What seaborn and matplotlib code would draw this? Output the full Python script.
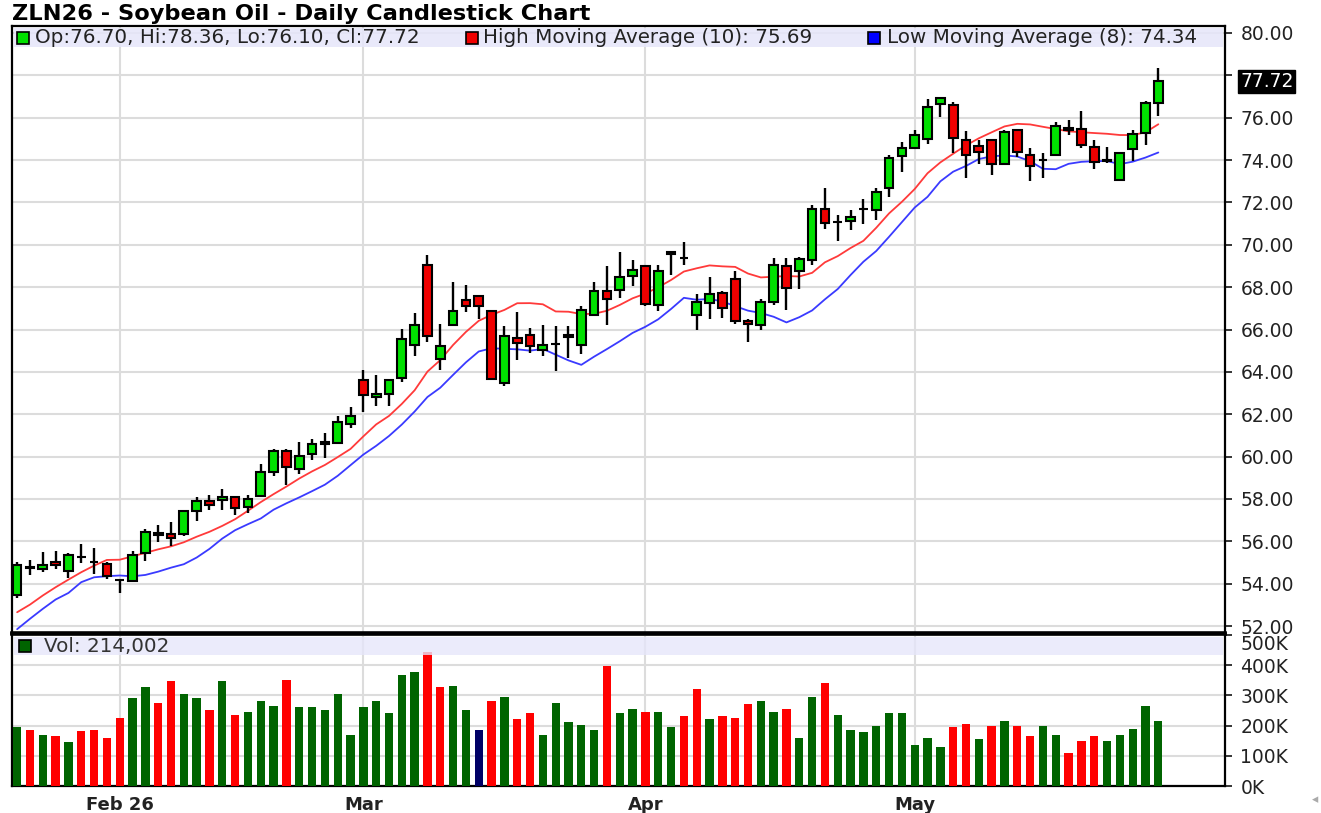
import numpy as np
import pandas as pd
import matplotlib
matplotlib.use("Agg")
import matplotlib.pyplot as plt
from matplotlib.patches import Rectangle
import seaborn as sns

# daily OHLC (first bar = late January)
opens = [53.45, 54.80, 54.70, 55.00, 54.62, 55.24, 55.00, 54.93, 54.19, 54.14,
         55.45, 56.30, 56.34, 56.34, 57.41, 57.88, 57.96, 58.07, 57.63, 58.12,
         59.28, 60.27, 59.43, 60.14, 60.58, 60.63, 61.52, 63.61, 62.81, 62.94,
         63.72, 65.29, 69.06, 64.63, 66.20, 67.41, 67.57, 66.86, 63.49, 65.60,
         65.76, 65.02, 65.30, 65.76, 65.29, 66.70, 67.83, 67.88, 68.51, 69.00,
         67.14, 69.55, 69.38, 66.70, 67.27, 67.74, 68.37, 66.38, 66.19, 67.30,
         69.00, 68.76, 69.27, 71.71, 71.06, 71.13, 71.69, 71.64, 72.67, 74.20,
         74.58, 75.01, 76.65, 76.60, 74.97, 74.67, 74.97, 73.80, 75.40, 74.23,
         73.98, 74.26, 75.53, 75.45, 74.62, 73.96, 73.07, 74.51, 75.29, 76.70]
highs = [55.00, 55.10, 55.50, 55.55, 55.45, 55.87, 55.70, 55.00, 54.22, 55.55,
         56.58, 56.78, 56.92, 57.47, 58.07, 58.20, 58.49, 58.15, 58.20, 59.64,
         60.35, 60.35, 60.71, 60.85, 61.09, 61.92, 62.35, 64.07, 63.85, 63.65,
         66.03, 66.78, 69.53, 66.28, 68.24, 68.08, 67.60, 66.90, 66.15, 66.81,
         66.08, 66.23, 66.15, 66.15, 67.13, 68.24, 69.01, 69.64, 69.29, 69.05,
         69.06, 69.66, 70.14, 67.69, 68.48, 67.80, 68.75, 66.50, 67.46, 69.39,
         69.39, 69.43, 71.87, 72.66, 71.40, 71.63, 72.14, 72.66, 74.25, 74.86,
         75.43, 76.88, 76.99, 76.75, 75.35, 74.97, 74.97, 75.43, 75.48, 74.58,
         74.31, 75.82, 75.90, 76.33, 74.97, 74.62, 74.39, 75.40, 76.80, 78.36]
lows = [53.30, 54.40, 54.55, 54.70, 54.26, 54.96, 54.45, 54.20, 53.56, 54.10,
        55.06, 55.95, 55.76, 56.26, 56.97, 57.47, 57.47, 57.25, 57.33, 58.10,
        59.09, 58.67, 59.20, 59.83, 59.91, 60.60, 61.35, 62.10, 62.39, 62.39,
        63.53, 64.74, 65.40, 64.11, 66.20, 66.83, 66.50, 63.60, 63.33, 64.54,
        64.90, 64.77, 64.03, 64.66, 64.82, 66.70, 66.19, 67.50, 68.04, 67.10,
        66.85, 68.56, 69.03, 65.96, 66.51, 66.54, 66.27, 65.40, 65.96, 67.14,
        66.90, 67.93, 69.06, 70.74, 70.17, 70.69, 70.97, 71.19, 72.27, 73.46,
        74.58, 74.78, 76.02, 74.34, 73.14, 73.80, 73.30, 73.80, 74.16, 73.02,
        73.14, 74.19, 75.17, 74.55, 73.56, 73.84, 72.99, 73.95, 74.70, 76.10]
closes = [54.90, 54.72, 54.90, 54.88, 55.35, 55.24, 55.00, 54.38, 54.19, 55.35,
          56.45, 56.40, 56.14, 57.41, 57.91, 57.71, 58.07, 57.57, 57.99, 59.28,
          60.27, 59.51, 60.03, 60.61, 60.71, 61.65, 61.90, 62.89, 62.94, 63.61,
          65.56, 66.19, 65.71, 65.21, 66.86, 67.13, 67.13, 63.64, 65.68, 65.37,
          65.21, 65.26, 65.32, 65.65, 66.91, 67.83, 67.44, 68.46, 68.82, 67.20,
          68.75, 69.66, 69.38, 67.30, 67.66, 67.03, 66.38, 66.27, 67.30, 69.03,
          67.97, 69.32, 71.71, 71.05, 71.09, 71.32, 71.71, 72.50, 74.08, 74.55,
          75.17, 76.52, 76.91, 75.06, 74.23, 74.39, 73.80, 75.32, 74.39, 73.74,
          74.00, 75.59, 75.43, 74.70, 73.92, 74.00, 74.31, 75.25, 76.68, 77.72]
volumes = [196, 186, 170, 165, 145, 181, 186, 160, 225, 291,
           326, 276, 346, 306, 291, 251, 346, 235, 245, 281,
           265, 351, 261, 261, 251, 306, 170, 261, 281, 241,
           366, 376, 444, 326, 330, 251, 186, 281, 296, 221,
           241, 170, 276, 211, 201, 186, 397, 241, 255, 246,
           246, 196, 231, 320, 221, 231, 225, 271, 281, 246,
           255, 160, 296, 340, 235, 186, 180, 200, 241, 241,
           135, 160, 130, 196, 206, 155, 200, 215, 200, 165,
           200, 170, 109, 150, 165, 150, 170, 190, 265, 214.002]

# moving average values at the left edge (need bars before the window)
ma_high_head = [52.65, 53.01, 53.44, 53.83, 54.19, 54.54, 54.85, 55.12, 55.13]
ma_low_head = [51.85, 52.34, 52.81, 53.25, 53.56, 54.07, 54.30]

month_pos = [8, 27, 49, 70]
month_labels = ["Feb 26", "Mar", "Apr", "May"]
price_ticks = list(range(52, 81, 2))
vol_ticks = [0, 100000, 200000, 300000, 400000, 500000]
vol_labels = ["0K", "100K", "200K", "300K", "400K", "500K"]

title = "ZLN26 - Soybean Oil - Daily Candlestick Chart"
txt_ohlc = "Op:76.70, Hi:78.36, Lo:76.10, Cl:77.72"
txt_hma = "High Moving Average (10): 75.69"
txt_lma = "Low Moving Average (8): 74.34"
txt_vol = "Vol: 214,002"
last_close = 77.72

df = pd.DataFrame({"open": opens, "high": highs, "low": lows,
                   "close": closes, "volume": np.array(volumes) * 1000})
df["x"] = np.arange(len(df))
df["ma_high"] = df["high"].rolling(10).mean()
df.loc[:8, "ma_high"] = ma_high_head
df["ma_low"] = df["low"].rolling(8).mean()
df.loc[:6, "ma_low"] = ma_low_head
chg = df["close"].diff().fillna(1)
df["vdir"] = np.where(chg > 0, "up", np.where(chg < 0, "down", "unch"))

sns.set_style("white")
plt.rcParams["font.family"] = ["DejaVu Sans"]

W, H = 1321, 813
fig = plt.figure(figsize=(W / 100, H / 100), dpi=100)
ax = fig.add_axes([12 / W, 1 - 633 / H, 1213 / W, 607 / H])
axv = fig.add_axes([12 / W, 1 - 786 / H, 1213 / W, 152 / H], sharex=ax)

grid_c = "#dcdcdc"
green = "#00e000"
red = "#f00000"

# price panel
sns.lineplot(data=df, x="x", y="ma_high", ax=ax, color="#ff3a3a", lw=1.3, zorder=2)
sns.lineplot(data=df, x="x", y="ma_low", ax=ax, color="#3a3aff", lw=1.3, zorder=2)
ax.vlines(df["x"], df["low"], df["high"], color="black", lw=1.7, zorder=3)
body_col = np.where(df["close"] >= df["open"], green, red)
ax.bar(df["x"], (df["close"] - df["open"]).abs(),
       bottom=df[["open", "close"]].min(axis=1), width=0.68,
       color=body_col, edgecolor="black", linewidth=1.5, zorder=4)

ax.set_ylim(51.67, 80.33)
ax.set_xlim(-0.4, 94.2)
ax.set_yticks(price_ticks)
ax.set_yticklabels(["" if t == 78 else f"{t:.2f}" for t in price_ticks])
ax.yaxis.tick_right()
ax.tick_params(axis="y", direction="out", length=5, width=1.3, pad=6,
               labelsize=13.5, labelcolor="#222222")
ax.tick_params(axis="x", bottom=False, labelbottom=False)
ax.set_xticks(month_pos)
ax.grid(True, color=grid_c, lw=1.5)
ax.set_axisbelow(True)
ax.set_xlabel("")
ax.set_ylabel("")
for s in ax.spines.values():
    s.set_color("black")
    s.set_linewidth(1.6)
ax.spines["bottom"].set_linewidth(2.6)

# header band with legend
ax.add_patch(Rectangle((0.0016, 0.9654), 0.9965, 0.0313, transform=ax.transAxes,
                       facecolor="#e6e6fa", alpha=0.85, edgecolor="none", zorder=6))
yb = 0.981
for xs, xt, c, t in [(0.0091, 0.0190, green, txt_ohlc),
                     (0.3792, 0.3885, red, txt_hma),
                     (0.7106, 0.7215, "#0000ff", txt_lma)]:
    ax.plot([xs], [yb], marker="s", ms=8, mfc=c, mec="black", mew=1.2,
            transform=ax.transAxes, clip_on=False, zorder=7)
    ax.text(xt, yb, t, transform=ax.transAxes, va="center", ha="left",
            fontsize=14.3, color="#222222", zorder=7)

ax.annotate(f"{last_close:.2f}", xy=(1.0, last_close),
            xycoords=("axes fraction", "data"), xytext=(15, 0),
            textcoords="offset pixels", va="center", ha="left",
            fontsize=13.5, color="white",
            bbox=dict(boxstyle="square,pad=0.1", fc="black", ec="black"),
            zorder=8, annotation_clip=False)

# volume panel
sns.barplot(data=df, x="x", y="volume", hue="vdir", ax=axv, native_scale=True,
            palette={"up": "#006400", "down": "#ff0000", "unch": "#000066"},
            dodge=False, legend=False, width=0.65, saturation=1,
            linewidth=0, zorder=3)
axv.set_ylim(0, 503000)
axv.set_xlim(-0.4, 94.2)
axv.set_yticks(vol_ticks)
axv.set_yticklabels(vol_labels)
axv.yaxis.tick_right()
axv.tick_params(axis="y", direction="out", length=5, width=1.3, pad=6,
                labelsize=13.5, labelcolor="#222222")
axv.get_yticklabels()[-1].set_va("top")
axv.set_xticks(month_pos)
axv.set_xticklabels(month_labels, fontweight="bold", fontsize=13, color="#222222")
axv.tick_params(axis="x", direction="inout", length=7, width=1.3, pad=4)
axv.grid(True, color=grid_c, lw=1.5)
axv.set_axisbelow(True)
axv.set_xlabel("")
axv.set_ylabel("")
for s in axv.spines.values():
    s.set_color("black")
    s.set_linewidth(1.6)
axv.spines["top"].set_linewidth(2.6)

axv.add_patch(Rectangle((0.0016, 0.862), 0.9965, 0.118, transform=axv.transAxes,
                        facecolor="#e6e6fa", alpha=0.8, edgecolor="none", zorder=6))
axv.plot([0.0107], [0.921], marker="s", ms=8, mfc="#006400", mec="black", mew=1.2,
         transform=axv.transAxes, clip_on=False, zorder=7)
axv.text(0.0265, 0.921, txt_vol, transform=axv.transAxes, va="center", ha="left",
         fontsize=14.3, color="#333333", zorder=7)

fig.text(12 / W, 1 - 14 / H, title, fontsize=16.2, fontweight="bold",
         va="center", ha="left", color="black")
fig.text(0.998, 1 - 800 / H, "\u25c2", fontsize=9, color="#aaaaaa",
         va="center", ha="right")

fig.savefig("out.png", dpi=100)
